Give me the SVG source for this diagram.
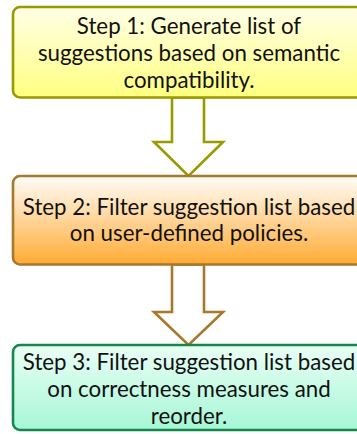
<svg xmlns="http://www.w3.org/2000/svg" width="357" height="434" viewBox="0 0 357 434">
<defs>
<linearGradient id="g1" x1="0" y1="0" x2="0" y2="1"><stop offset="0" stop-color="#ffffe6"/><stop offset="1" stop-color="#ffff80"/></linearGradient>
<linearGradient id="g2" x1="0" y1="0" x2="0" y2="1"><stop offset="0" stop-color="#fffdfa"/><stop offset="1" stop-color="#ffab33"/></linearGradient>
<linearGradient id="g3" x1="0" y1="0" x2="0" y2="1"><stop offset="0" stop-color="#eafff6"/><stop offset="1" stop-color="#a6f7d6"/></linearGradient>
</defs>
<style>
.box{stroke-width:2.6}
.t{font-family:"Lato","Liberation Sans",sans-serif;font-size:22.3px;fill:#111;text-anchor:middle}
.arr{fill:#fff;stroke-width:2.6;stroke-linejoin:miter}
</style>
<g id="connectors">
<polygon class="arr" stroke="#999900" points="172,97.5 204,97.5 204,142 223,142 188.5,176 154,142 172,142"/>
<polygon class="arr" stroke="#a8782e" points="172,264.5 204,264.5 204,312 223,312 188.5,345 154,312 172,312"/>
</g>
<g id="step1">
<rect class="box" x="13" y="7" width="356" height="90.5" rx="7" fill="url(#g1)" stroke="#999900"/>
<text class="t" x="189" y="34">Step 1: Generate list of</text>
<text class="t" x="189" y="61">suggestions based on semantic</text>
<text class="t" x="189" y="88">compatibility.</text>
</g>
<g id="step2">
<rect class="box" x="13" y="176" width="356" height="88.5" rx="7" fill="url(#g2)" stroke="#a8782e"/>
<text class="t" x="189" y="215">Step 2: Filter suggestion list based</text>
<text class="t" x="189" y="241">on user-defined policies.</text>
</g>
<g id="step3">
<rect class="box" x="13" y="345" width="356" height="85" rx="7" fill="url(#g3)" stroke="#16884e"/>
<text class="t" x="189" y="370">Step 3: Filter suggestion list based</text>
<text class="t" x="189" y="397">on correctness measures and</text>
<text class="t" x="189" y="424">reorder.</text>
</g>
</svg>
